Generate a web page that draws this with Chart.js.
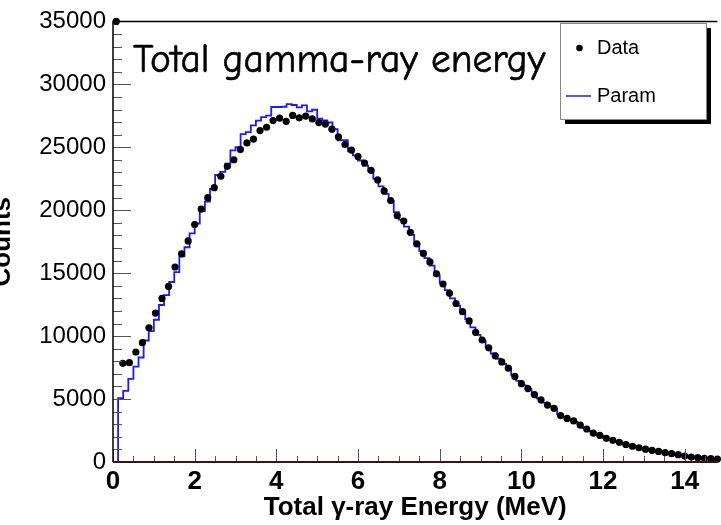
<!DOCTYPE html>
<html>
<head>
<meta charset="utf-8">
<title>Total gamma-ray energy</title>
<script src="https://cdn.jsdelivr.net/npm/chart.js@4.4.1/dist/chart.umd.min.js"></script>
<style>
    html, body { margin: 0; padding: 0; background: #fff; overflow: hidden; }
    #myChart { display: block; }
</style>
</head>
<body>
<canvas id="myChart" width="721" height="525"></canvas>
<script>
// measured spectrum, 0.16 MeV bins starting at 0 (first bin is off scale)
var dataBinWidth = 0.16;
var dataCounts = [
    35000, 7840, 7890, 8730, 9480, 10660, 11830, 12990, 13950, 15490,
    16540, 17560, 18860, 20090, 21000, 21790, 22700, 23490, 24010, 24820,
    25350, 25650, 26330, 26590, 27120, 27320, 27060, 27530, 27340, 27480,
    27250, 26960, 26840, 26440, 25820, 25220, 24770, 24270, 23750, 23170,
    22410, 21530, 20770, 19570, 19140, 18250, 17320, 16570, 15890, 14950,
    14140, 13400, 12590, 11940, 11210, 10300, 9690, 9070, 8440, 7950,
    7450, 6800, 6220, 5830, 5360, 4940, 4520, 4260, 3690, 3460,
    3260, 2930, 2620, 2300, 2120, 1880, 1720, 1570, 1390, 1250,
    1130, 1020, 920, 840, 740, 660, 580, 470, 390, 345,
    290, 265, 235
];

// parametrised spectrum, 0.125 MeV bins starting at 0
var paramBinWidth = 0.125;
var paramCounts = [
    0, 5070, 5650, 6610, 7580, 8300, 9650, 10390, 11300, 12470,
    13260, 14300, 15090, 16330, 17060, 18160, 18940, 19940, 20690, 21690,
    22800, 23040, 23700, 24750, 25020, 26050, 26200, 26740, 27120, 27400,
    27520, 28200, 28200, 28220, 28430, 28360, 28170, 28330, 27850, 27980,
    27280, 27140, 26970, 26440, 25560, 25560, 24720, 24350, 23950, 23550,
    23100, 22500, 21900, 21300, 20700, 19850, 19250, 18700, 18050, 17350,
    16750, 16200, 15600, 14850, 14250, 13650, 13000, 12420, 11900, 11350,
    10700, 10100, 9620, 9120, 8620, 8200, 7800, 7420, 6920, 6450,
    6080, 5760, 5400, 5050, 4720, 4430, 4200, 3800, 3550, 3380,
    3190, 2950, 2700, 2450, 2250, 2090, 1900, 1780, 1650, 1530,
    1400, 1280, 1180, 1090, 1010, 930, 860, 790, 720, 650,
    590, 520, 450, 390, 350, 310, 280, 260, 240
];

var xTickValues = [0, 2, 4, 6, 8, 10, 12, 14];
var yTickValues = [0, 5000, 10000, 15000, 20000, 25000, 30000, 35000];
var xMinorStep = 0.5;
var yMinorStep = 1000;

// points at bin centres for the markers
var dataPoints = dataCounts.map(function (c, i) {
    return { x: (i + 0.5) * dataBinWidth, y: c };
});
// points at bin low edges for the step line, closed at the last upper edge
var paramPoints = paramCounts.map(function (c, i) {
    return { x: i * paramBinWidth, y: c };
});
paramPoints.push({ x: paramCounts.length * paramBinWidth, y: paramCounts[paramCounts.length - 1] });

Chart.defaults.font.family = "'Liberation Sans', Arial, Helvetica, sans-serif";
Chart.defaults.color = '#000';

// frame and inward ticks, ROOT style
var rootFrame = {
    id: 'rootFrame',
    afterDatasetsDraw: function (chart) {
        var ctx = chart.ctx, a = chart.chartArea;
        var xs = chart.scales.x, ys = chart.scales.y;
        ctx.save();
        ctx.strokeStyle = '#555';
        ctx.lineWidth = 1;
        ctx.beginPath();
        for (var v = ys.min; v <= ys.max; v += yMinorStep) {
            var py = Math.round(ys.getPixelForValue(v)) + 0.5;
            var len = (v % 5000 === 0) ? 18 : 9;
            ctx.moveTo(a.left, py);
            ctx.lineTo(a.left + len, py);
        }
        for (var t = 0; t <= xs.max; t += xMinorStep) {
            var px = Math.round(xs.getPixelForValue(t)) + 0.5;
            var l2 = (t % 2 === 0) ? 13 : 6;
            ctx.moveTo(px, a.bottom);
            ctx.lineTo(px, a.bottom - l2);
        }
        ctx.stroke();

        ctx.strokeStyle = '#000';
        ctx.lineWidth = 1.5;
        ctx.beginPath();
        ctx.moveTo(a.left, a.bottom);
        ctx.lineTo(a.left, a.top);
        ctx.lineTo(a.right, a.top);
        ctx.stroke();

        ctx.strokeStyle = '#3a1414';
        ctx.lineWidth = 2;
        ctx.beginPath();
        ctx.moveTo(a.left, a.bottom);
        ctx.lineTo(a.right, a.bottom);
        ctx.stroke();
        ctx.restore();
    }
};

// title inside the frame
var boxTitle = {
    id: 'boxTitle',
    afterDraw: function (chart) {
        var ctx = chart.ctx;
        var text = 'Total gamma-ray energy';
        ctx.save();
        var fam = "'Comic Sans MS', 'Comic Neue', Lato, 'Noto Sans', sans-serif";
        ctx.font = '40px ' + fam;
        var size = 40 * 412 / ctx.measureText(text).width;
        ctx.font = size.toFixed(1) + 'px ' + fam;
        ctx.fillStyle = '#000';
        ctx.strokeStyle = '#000';
        ctx.lineWidth = 0.6;
        ctx.textBaseline = 'alphabetic';
        ctx.fillText(text, 133, 72);
        ctx.strokeText(text, 133, 72);
        ctx.restore();
    }
};

// legend box with drop shadow
var rootLegend = {
    id: 'rootLegend',
    afterDraw: function (chart) {
        var ctx = chart.ctx;
        var bx = 560, by = 23, bw = 146, bh = 96;
        ctx.save();
        ctx.fillStyle = '#000';
        ctx.fillRect(bx + 5, by + 5, bw, bh);
        ctx.fillStyle = '#fff';
        ctx.fillRect(bx, by, bw, bh);
        ctx.strokeStyle = '#888';
        ctx.lineWidth = 1;
        ctx.strokeRect(bx + 0.5, by + 0.5, bw, bh);

        var ds = chart.data.datasets;
        ctx.font = "20px 'Liberation Sans', Arial, sans-serif";
        ctx.textBaseline = 'middle';
        ctx.fillStyle = '#000';

        ctx.beginPath();
        ctx.arc(579.5, 48, 3.3, 0, Math.PI * 2);
        ctx.fill();
        ctx.fillText(ds[0].label, 597, 48);

        ctx.strokeStyle = ds[1].borderColor;
        ctx.lineWidth = 1.5;
        ctx.beginPath();
        ctx.moveTo(566, 96);
        ctx.lineTo(591, 96);
        ctx.stroke();
        ctx.fillText(ds[1].label, 597, 96);
        ctx.restore();
    }
};

var ctx = document.getElementById('myChart').getContext('2d');

var chart = new Chart(ctx, {
    type: 'scatter',
    data: {
        datasets: [{
            label: 'Data',
            data: dataPoints,
            showLine: false,
            clip: false,
            pointRadius: 3.6,
            pointHoverRadius: 3.6,
            pointBackgroundColor: '#000',
            pointBorderWidth: 0,
            order: 1
        }, {
            label: 'Param',
            data: paramPoints,
            showLine: true,
            stepped: 'before',
            borderColor: '#1a1aff',
            borderWidth: 1.8,
            pointRadius: 0,
            fill: false,
            order: 2
        }]
    },
    options: {
        responsive: false,
        animation: false,
        events: [],
        layout: { padding: { left: 0, top: 17, right: 0, bottom: 0 } },
        plugins: {
            legend: { display: false },
            tooltip: { enabled: false }
        },
        scales: {
            x: {
                type: 'linear',
                min: 0,
                max: 14.8,
                grid: { display: false, drawTicks: false },
                border: { display: false },
                afterBuildTicks: function (scale) {
                    scale.ticks = xTickValues.map(function (v) { return { value: v }; });
                },
                afterFit: function (scale) { scale.height = 63; },
                ticks: {
                    padding: 4,
                    maxRotation: 0,
                    autoSkip: false,
                    font: { size: 26, weight: 'bold' },
                    callback: function (v) { return String(v); }
                },
                title: {
                    display: true,
                    text: 'Total \u03b3-ray Energy (MeV)',
                    font: { size: 26, weight: 'bold' },
                    padding: { top: 0, bottom: 2 }
                }
            },
            y: {
                type: 'linear',
                min: 0,
                max: 35000,
                grid: { display: false, drawTicks: false },
                border: { display: false },
                afterBuildTicks: function (scale) {
                    scale.ticks = yTickValues.map(function (v) { return { value: v }; });
                },
                afterFit: function (scale) { scale.width = 113; },
                ticks: {
                    padding: 7,
                    autoSkip: false,
                    font: { size: 24 },
                    callback: function (v) { return String(v); }
                },
                title: {
                    display: true,
                    text: 'Counts',
                    font: { size: 26, weight: 'bold' },
                    padding: { top: -13, bottom: 0 }
                }
            }
        }
    },
    plugins: [rootFrame, boxTitle, rootLegend]
});
</script>
</body>
</html>
